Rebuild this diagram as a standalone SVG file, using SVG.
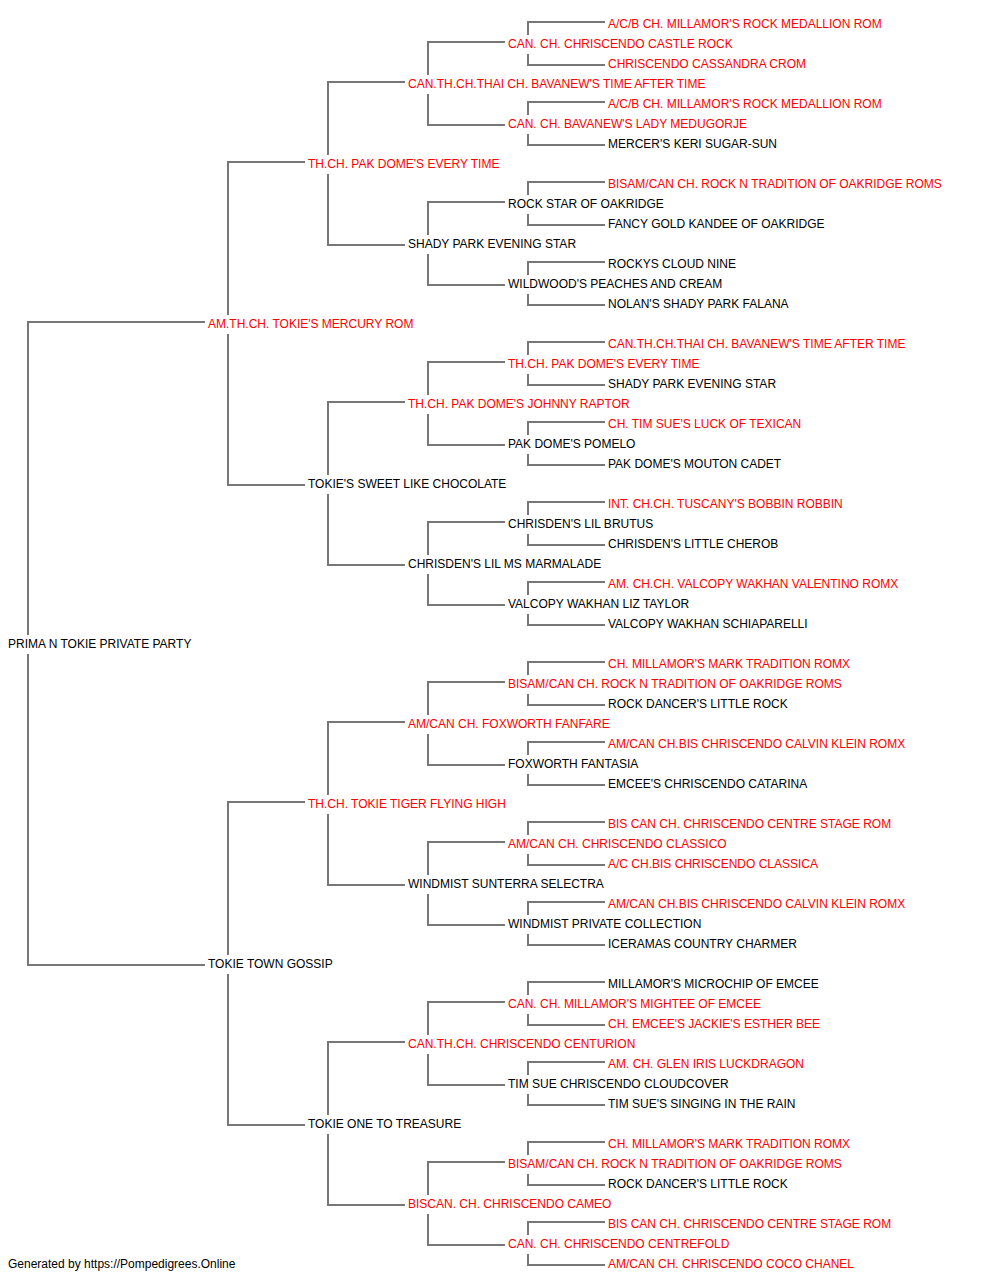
<svg xmlns="http://www.w3.org/2000/svg" width="1000" height="1280" viewBox="0 0 1000 1280">
<style>
text{font-family:"Liberation Sans",Arial,sans-serif;font-size:12px}
.r{fill:#ff0000}
.b{fill:#000000}
.c{fill:none;stroke:#777777;stroke-width:2}
</style>
<rect width="1000" height="1280" fill="#ffffff"/>
<g id="connectors" class="c">
<path d="M205,322 H28 V635 M28,654 V965 H205"/>
<path d="M305,162 H228 V315 M228,334 V485 H305"/>
<path d="M305,802 H228 V955 M228,974 V1125 H305"/>
<path d="M405,82 H328 V155 M328,174 V245 H405"/>
<path d="M405,402 H328 V475 M328,494 V565 H405"/>
<path d="M405,722 H328 V795 M328,814 V885 H405"/>
<path d="M405,1042 H328 V1115 M328,1134 V1205 H405"/>
<path d="M505,42 H428 V75 M428,94 V125 H505"/>
<path d="M505,202 H428 V235 M428,254 V285 H505"/>
<path d="M505,362 H428 V395 M428,414 V445 H505"/>
<path d="M505,522 H428 V555 M428,574 V605 H505"/>
<path d="M505,682 H428 V715 M428,734 V765 H505"/>
<path d="M505,842 H428 V875 M428,894 V925 H505"/>
<path d="M505,1002 H428 V1035 M428,1054 V1085 H505"/>
<path d="M505,1162 H428 V1195 M428,1214 V1245 H505"/>
<path d="M605,22 H528 V35 M528,54 V65 H605"/>
<path d="M605,102 H528 V115 M528,134 V145 H605"/>
<path d="M605,182 H528 V195 M528,214 V225 H605"/>
<path d="M605,262 H528 V275 M528,294 V305 H605"/>
<path d="M605,342 H528 V355 M528,374 V385 H605"/>
<path d="M605,422 H528 V435 M528,454 V465 H605"/>
<path d="M605,502 H528 V515 M528,534 V545 H605"/>
<path d="M605,582 H528 V595 M528,614 V625 H605"/>
<path d="M605,662 H528 V675 M528,694 V705 H605"/>
<path d="M605,742 H528 V755 M528,774 V785 H605"/>
<path d="M605,822 H528 V835 M528,854 V865 H605"/>
<path d="M605,902 H528 V915 M528,934 V945 H605"/>
<path d="M605,982 H528 V995 M528,1014 V1025 H605"/>
<path d="M605,1062 H528 V1075 M528,1094 V1105 H605"/>
<path d="M605,1142 H528 V1155 M528,1174 V1185 H605"/>
<path d="M605,1222 H528 V1235 M528,1254 V1265 H605"/>
</g>
<g id="n0"><text class="r" x="608" y="28">A/C/B CH. MILLAMOR'S ROCK MEDALLION ROM</text></g>
<g id="n1"><text class="r" x="508" y="48">CAN. CH. CHRISCENDO CASTLE ROCK</text></g>
<g id="n2"><text class="r" x="608" y="68">CHRISCENDO CASSANDRA CROM</text></g>
<g id="n3"><text class="r" x="408" y="88">CAN.TH.CH.THAI CH. BAVANEW'S TIME AFTER TIME</text></g>
<g id="n4"><text class="r" x="608" y="108">A/C/B CH. MILLAMOR'S ROCK MEDALLION ROM</text></g>
<g id="n5"><text class="r" x="508" y="128">CAN. CH. BAVANEW'S LADY MEDUGORJE</text></g>
<g id="n6"><text class="b" x="608" y="148">MERCER'S KERI SUGAR-SUN</text></g>
<g id="n7"><text class="r" x="308" y="168">TH.CH. PAK DOME'S EVERY TIME</text></g>
<g id="n8"><text class="r" x="608" y="188">BISAM/CAN CH. ROCK N TRADITION OF OAKRIDGE ROMS</text></g>
<g id="n9"><text class="b" x="508" y="208">ROCK STAR OF OAKRIDGE</text></g>
<g id="n10"><text class="b" x="608" y="228">FANCY GOLD KANDEE OF OAKRIDGE</text></g>
<g id="n11"><text class="b" x="408" y="248">SHADY PARK EVENING STAR</text></g>
<g id="n12"><text class="b" x="608" y="268">ROCKYS CLOUD NINE</text></g>
<g id="n13"><text class="b" x="508" y="288">WILDWOOD'S PEACHES AND CREAM</text></g>
<g id="n14"><text class="b" x="608" y="308">NOLAN'S SHADY PARK FALANA</text></g>
<g id="n15"><text class="r" x="208" y="328">AM.TH.CH. TOKIE'S MERCURY ROM</text></g>
<g id="n16"><text class="r" x="608" y="348">CAN.TH.CH.THAI CH. BAVANEW'S TIME AFTER TIME</text></g>
<g id="n17"><text class="r" x="508" y="368">TH.CH. PAK DOME'S EVERY TIME</text></g>
<g id="n18"><text class="b" x="608" y="388">SHADY PARK EVENING STAR</text></g>
<g id="n19"><text class="r" x="408" y="408">TH.CH. PAK DOME'S JOHNNY RAPTOR</text></g>
<g id="n20"><text class="r" x="608" y="428">CH. TIM SUE'S LUCK OF TEXICAN</text></g>
<g id="n21"><text class="b" x="508" y="448">PAK DOME'S POMELO</text></g>
<g id="n22"><text class="b" x="608" y="468">PAK DOME'S MOUTON CADET</text></g>
<g id="n23"><text class="b" x="308" y="488">TOKIE'S SWEET LIKE CHOCOLATE</text></g>
<g id="n24"><text class="r" x="608" y="508">INT. CH.CH. TUSCANY'S BOBBIN ROBBIN</text></g>
<g id="n25"><text class="b" x="508" y="528">CHRISDEN'S LIL BRUTUS</text></g>
<g id="n26"><text class="b" x="608" y="548">CHRISDEN'S LITTLE CHEROB</text></g>
<g id="n27"><text class="b" x="408" y="568">CHRISDEN'S LIL MS MARMALADE</text></g>
<g id="n28"><text class="r" x="608" y="588">AM. CH.CH. VALCOPY WAKHAN VALENTINO ROMX</text></g>
<g id="n29"><text class="b" x="508" y="608">VALCOPY WAKHAN LIZ TAYLOR</text></g>
<g id="n30"><text class="b" x="608" y="628">VALCOPY WAKHAN SCHIAPARELLI</text></g>
<g id="n31"><text class="b" x="8" y="648">PRIMA N TOKIE PRIVATE PARTY</text></g>
<g id="n32"><text class="r" x="608" y="668">CH. MILLAMOR'S MARK TRADITION ROMX</text></g>
<g id="n33"><text class="r" x="508" y="688">BISAM/CAN CH. ROCK N TRADITION OF OAKRIDGE ROMS</text></g>
<g id="n34"><text class="b" x="608" y="708">ROCK DANCER'S LITTLE ROCK</text></g>
<g id="n35"><text class="r" x="408" y="728">AM/CAN CH. FOXWORTH FANFARE</text></g>
<g id="n36"><text class="r" x="608" y="748">AM/CAN CH.BIS CHRISCENDO CALVIN KLEIN ROMX</text></g>
<g id="n37"><text class="b" x="508" y="768">FOXWORTH FANTASIA</text></g>
<g id="n38"><text class="b" x="608" y="788">EMCEE'S CHRISCENDO CATARINA</text></g>
<g id="n39"><text class="r" x="308" y="808">TH.CH. TOKIE TIGER FLYING HIGH</text></g>
<g id="n40"><text class="r" x="608" y="828">BIS CAN CH. CHRISCENDO CENTRE STAGE ROM</text></g>
<g id="n41"><text class="r" x="508" y="848">AM/CAN CH. CHRISCENDO CLASSICO</text></g>
<g id="n42"><text class="r" x="608" y="868">A/C CH.BIS CHRISCENDO CLASSICA</text></g>
<g id="n43"><text class="b" x="408" y="888">WINDMIST SUNTERRA SELECTRA</text></g>
<g id="n44"><text class="r" x="608" y="908">AM/CAN CH.BIS CHRISCENDO CALVIN KLEIN ROMX</text></g>
<g id="n45"><text class="b" x="508" y="928">WINDMIST PRIVATE COLLECTION</text></g>
<g id="n46"><text class="b" x="608" y="948">ICERAMAS COUNTRY CHARMER</text></g>
<g id="n47"><text class="b" x="208" y="968">TOKIE TOWN GOSSIP</text></g>
<g id="n48"><text class="b" x="608" y="988">MILLAMOR'S MICROCHIP OF EMCEE</text></g>
<g id="n49"><text class="r" x="508" y="1008">CAN. CH. MILLAMOR'S MIGHTEE OF EMCEE</text></g>
<g id="n50"><text class="r" x="608" y="1028">CH. EMCEE'S JACKIE'S ESTHER BEE</text></g>
<g id="n51"><text class="r" x="408" y="1048">CAN.TH.CH. CHRISCENDO CENTURION</text></g>
<g id="n52"><text class="r" x="608" y="1068">AM. CH. GLEN IRIS LUCKDRAGON</text></g>
<g id="n53"><text class="b" x="508" y="1088">TIM SUE CHRISCENDO CLOUDCOVER</text></g>
<g id="n54"><text class="b" x="608" y="1108">TIM SUE'S SINGING IN THE RAIN</text></g>
<g id="n55"><text class="b" x="308" y="1128">TOKIE ONE TO TREASURE</text></g>
<g id="n56"><text class="r" x="608" y="1148">CH. MILLAMOR'S MARK TRADITION ROMX</text></g>
<g id="n57"><text class="r" x="508" y="1168">BISAM/CAN CH. ROCK N TRADITION OF OAKRIDGE ROMS</text></g>
<g id="n58"><text class="b" x="608" y="1188">ROCK DANCER'S LITTLE ROCK</text></g>
<g id="n59"><text class="r" x="408" y="1208">BISCAN. CH. CHRISCENDO CAMEO</text></g>
<g id="n60"><text class="r" x="608" y="1228">BIS CAN CH. CHRISCENDO CENTRE STAGE ROM</text></g>
<g id="n61"><text class="r" x="508" y="1248">CAN. CH. CHRISCENDO CENTREFOLD</text></g>
<g id="n62"><text class="r" x="608" y="1268">AM/CAN CH. CHRISCENDO COCO CHANEL</text></g>
<g id="footer"><text class="b" x="8" y="1268">Generated by https://Pompedigrees.Online</text></g>
</svg>
